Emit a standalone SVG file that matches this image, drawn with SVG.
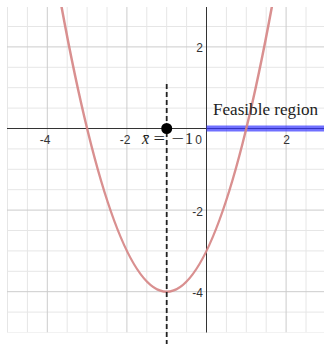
<svg xmlns="http://www.w3.org/2000/svg" width="324" height="344" viewBox="0 0 324 344">
<style>
.minor{stroke:#e6e6e6;stroke-width:1;fill:none}
.major{stroke:#cccccc;stroke-width:1;fill:none}
.axis{stroke:#333;stroke-width:1;fill:none}
.tick{font-family:"Liberation Sans",Arial,sans-serif;font-size:12px;fill:#333}
.math{font-family:"Liberation Serif","Times New Roman",serif;fill:#222}
</style>
<defs>
<clipPath id="plot"><rect x="7" y="7" width="317" height="325.5"/></clipPath>
</defs>
<rect width="324" height="344" fill="#fff"/>
<g id="grid" clip-path="url(#plot)">
<path class="minor" d="M7.5 7V332.5M27.4 7V332.5M67.2 7V332.5M87.1 7V332.5M107 7V332.5M146.8 7V332.5M166.7 7V332.5M186.6 7V332.5M226.4 7V332.5M246.3 7V332.5M266.2 7V332.5M306 7V332.5M7 26.5H324M7 67.3H324M7 87.7H324M7 108.1H324M7 148.9H324M7 169.3H324M7 189.7H324M7 230.5H324M7 250.9H324M7 271.3H324M7 312.1H324M7 332.5H324"/>
<path class="major" d="M47.3 7V332.5M126.9 7V332.5M286.1 7V332.5M7 46.9H324M7 210.1H324M7 291.7H324"/>
</g>
<g id="axes">
<path class="axis" d="M7 128.5H324M206.5 7V332.5"/>
</g>
<g id="tick-labels" class="tick">
<text x="45" y="144" text-anchor="middle">-4</text>
<text x="125" y="144" text-anchor="middle">-2</text>
<text x="198.5" y="144" text-anchor="middle">0</text>
<text x="286.5" y="144" text-anchor="middle">2</text>
<text x="203" y="52" text-anchor="end">2</text>
<text x="203" y="215.5" text-anchor="end">-2</text>
<text x="203" y="296.5" text-anchor="end">-4</text>
</g>
<g id="feasible-region">
<line x1="206.5" y1="128.5" x2="324" y2="128.5" stroke="#3333ff" stroke-opacity="0.7" stroke-width="6"/>
</g>
<g id="parabola" clip-path="url(#plot)">
<path d="M59.24 -5.73Q166.7 589.13 274.16 -5.73" fill="none" stroke="#d58484" stroke-width="2.5" stroke-opacity="0.9"/>
</g>
<g id="connectors">
<line id="x-bar-line" x1="166.7" y1="84" x2="166.7" y2="344" stroke="#222" stroke-width="1.8" stroke-dasharray="5,3"/>
</g>
<g id="point">
<circle cx="166.7" cy="128.5" r="5.5" fill="#000"/>
</g>
<g id="labels" class="math" font-size="16">
<text x="142" y="144" font-style="italic">x&#x0304;</text>
<text x="153.5" y="144" textLength="11.5" lengthAdjust="spacingAndGlyphs">=</text>
<text x="171.5" y="144" textLength="12.5" lengthAdjust="spacingAndGlyphs">&#x2212;</text>
<text x="185" y="144">1</text>
<text x="213" y="114.5" font-size="16.5" textLength="105" lengthAdjust="spacingAndGlyphs">Feasible region</text>
</g>
</svg>
